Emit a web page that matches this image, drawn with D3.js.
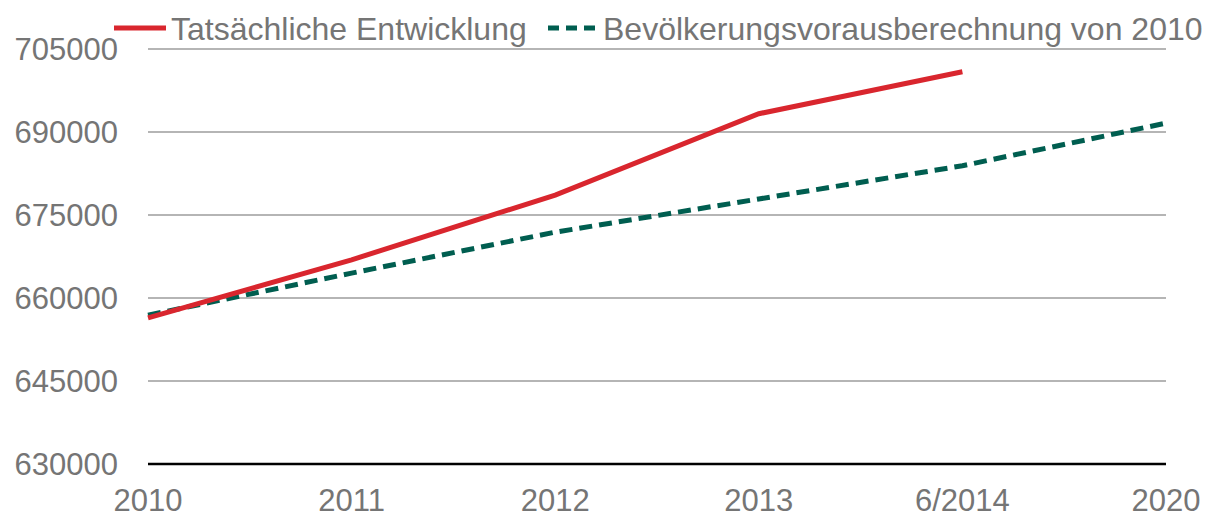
<!DOCTYPE html>
<html>
<head>
<meta charset="utf-8">
<script src="https://cdn.jsdelivr.net/npm/d3@7"></script>
<style>
  body { margin: 0; background: #fff; }
  text { font-family: "Liberation Sans", Arial, sans-serif; fill: #757575; }
</style>
</head>
<body>
<svg id="chart" width="1208" height="517"></svg>
<script>
// Chart data
const categories = ['2010', '2011', '2012', '2013', '6/2014', '2020'];
const actual = [656400, 666900, 678600, 693300, 700900, null];
const forecast = [656900, 664500, 671900, 677900, 683900, 691600];
const yTicks = [630000, 645000, 660000, 675000, 690000, 705000];
const seriesNames = ['Tatsächliche Entwicklung', 'Bevölkerungsvorausberechnung von 2010'];

const svg = d3.select('#chart');
const margin = { left: 148, right: 42, top: 49, bottom: 53 };
const width = 1208, height = 517;

const x = d3.scalePoint()
    .domain(categories)
    .range([margin.left, width - margin.right]);

const y = d3.scaleLinear()
    .domain([630000, 705000])
    .range([height - margin.bottom, margin.top]);

// Grid lines
svg.append('g')
    .selectAll('line')
    .data(yTicks.slice(1))
    .enter()
    .append('line')
    .attr('x1', margin.left)
    .attr('x2', width - margin.right)
    .attr('y1', d => y(d))
    .attr('y2', d => y(d))
    .attr('stroke', '#b5b5b5')
    .attr('stroke-width', 2);

// Baseline
svg.append('line')
    .attr('x1', margin.left)
    .attr('x2', width - margin.right)
    .attr('y1', y(630000))
    .attr('y2', y(630000))
    .attr('stroke', '#000')
    .attr('stroke-width', 2.5);

// Y labels
svg.append('g')
    .selectAll('text')
    .data(yTicks)
    .enter()
    .append('text')
    .attr('x', 118)
    .attr('y', d => y(d) + 11)
    .attr('text-anchor', 'end')
    .attr('font-size', 31)
    .text(d => d);

// X labels
svg.append('g')
    .selectAll('text')
    .data(categories)
    .enter()
    .append('text')
    .attr('x', d => x(d))
    .attr('y', 511)
    .attr('text-anchor', 'middle')
    .attr('font-size', 31)
    .text(d => d);

const line = d3.line()
    .defined(d => d[1] != null)
    .x(d => x(d[0]))
    .y(d => y(d[1]));

svg.append('path')
    .datum(categories.map((c, i) => [c, forecast[i]]))
    .attr('d', line)
    .attr('fill', 'none')
    .attr('stroke', '#005e50')
    .attr('stroke-width', 5)
    .attr('stroke-dasharray', '13,7');

svg.append('path')
    .datum(categories.map((c, i) => [c, actual[i]]))
    .attr('d', line)
    .attr('fill', 'none')
    .attr('stroke', '#d9262e')
    .attr('stroke-width', 5);

// Legend
const legend = svg.append('g');
legend.append('line')
    .attr('x1', 114).attr('x2', 166)
    .attr('y1', 28).attr('y2', 28)
    .attr('stroke', '#d9262e')
    .attr('stroke-width', 5);
legend.append('text')
    .attr('x', 171).attr('y', 40)
    .attr('font-size', 32)
    .text(seriesNames[0]);
legend.append('line')
    .attr('x1', 548).attr('x2', 598)
    .attr('y1', 28).attr('y2', 28)
    .attr('stroke', '#005e50')
    .attr('stroke-width', 5)
    .attr('stroke-dasharray', '11,7');
legend.append('text')
    .attr('x', 603).attr('y', 40)
    .attr('font-size', 32)
    .text(seriesNames[1]);
</script>
</body>
</html>
